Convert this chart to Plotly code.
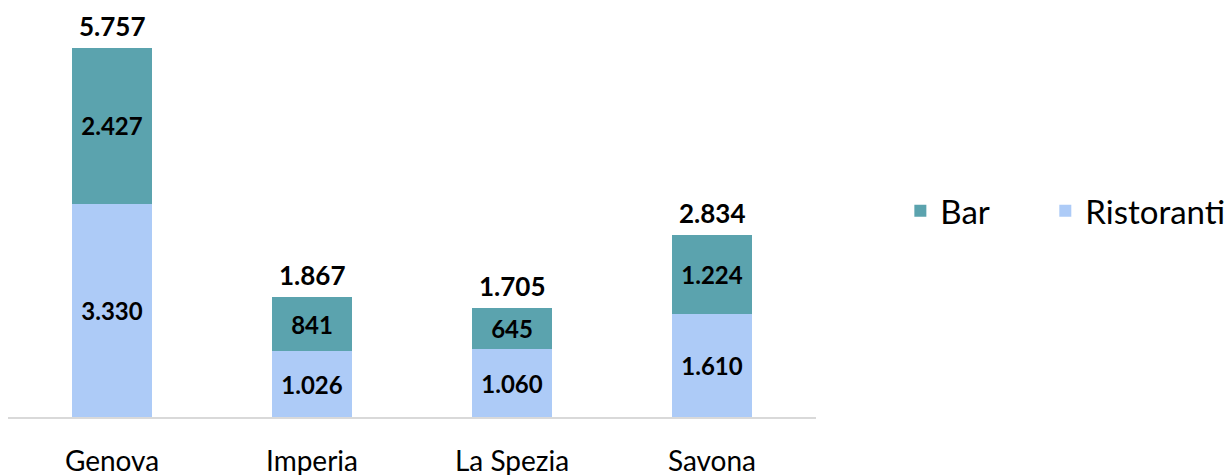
import plotly.graph_objects as go

categories = ["Genova", "Imperia", "La Spezia", "Savona"]
ristoranti = [3330, 1026, 1060, 1610]
bar_vals = [2427, 841, 645, 1224]
totals = [r + b for r, b in zip(ristoranti, bar_vals)]

FONT = "Lato"

fig = go.Figure()
fig.add_trace(go.Bar(
    name="Ristoranti", x=categories, y=ristoranti,
    marker=dict(color="#ADCBF7", line=dict(width=0)),
    texttemplate="%{y:,d}", textposition="inside", insidetextanchor="middle",
    textfont=dict(family=FONT, size=24, color="black", weight="bold"),
    width=0.4, legend="legend2",
))
fig.add_trace(go.Bar(
    name="Bar", x=categories, y=bar_vals,
    marker=dict(color="#5BA3AE", line=dict(width=0)),
    texttemplate="%{y:,d}", textposition="inside", insidetextanchor="middle",
    textfont=dict(family=FONT, size=24, color="black", weight="bold"),
    width=0.4, legend="legend",
))

for c, t in zip(categories, totals):
    fig.add_annotation(
        x=c, y=t, xref="x", yref="y", text=f"{t:,d}".replace(",", "."),
        showarrow=False, yanchor="bottom", yshift=4,
        font=dict(family=FONT, size=26, color="black", weight="bold"),
    )

legend_common = dict(
    orientation="h", yanchor="middle", y=0.504, xanchor="left",
    font=dict(family=FONT, size=33, color="black"),
    bgcolor="rgba(0,0,0,0)",
)

fig.update_layout(
    barmode="stack",
    separators=",.",
    width=1232, height=475,
    margin=dict(l=0, r=424, t=0, b=66, autoexpand=False),
    plot_bgcolor="white", paper_bgcolor="white",
    font=dict(family=FONT, color="black"),
    showlegend=True,
    legend=dict(x=1.1044, **legend_common),
    legend2=dict(x=1.2838, **legend_common),
    uniformtext=dict(mode=False),
)
fig.update_xaxes(
    range=[-0.52, 3.52], showline=True, linecolor="#d9d9d9", linewidth=2,
    showgrid=False, ticks="", tickfont=dict(family=FONT, size=28, color="black"),
    ticklabelstandoff=18, automargin=False,
)
fig.update_yaxes(range=[0, 6381], visible=False, showgrid=False)

fig.write_html("out.html")
